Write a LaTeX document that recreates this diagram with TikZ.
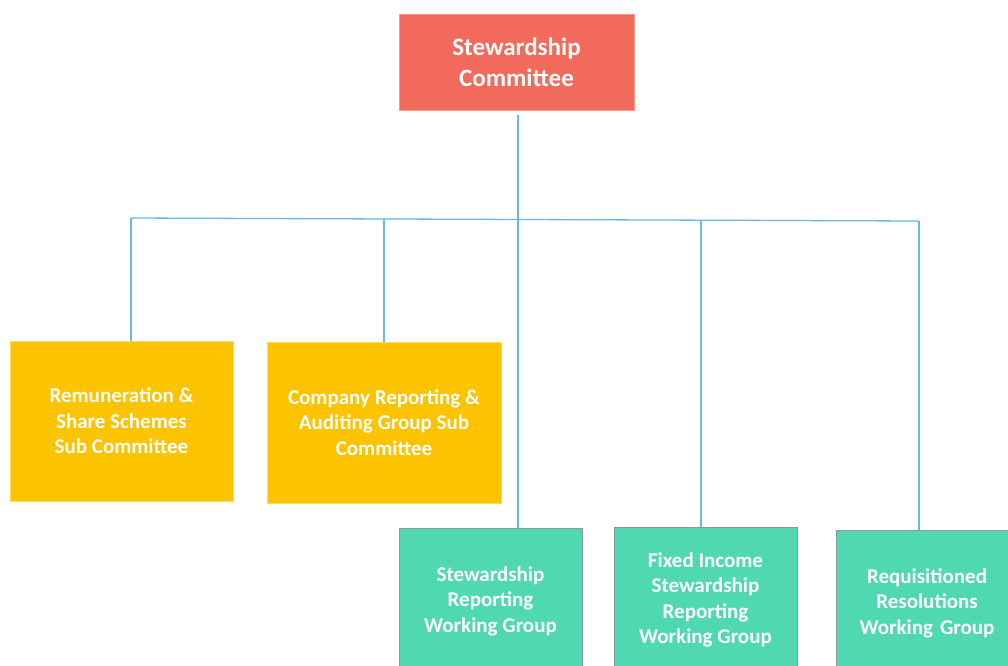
\documentclass[tikz,border=0pt]{standalone}
\usepackage{fontspec}
\setmainfont{Carlito}
\definecolor{redbox}{HTML}{F26A5B}
\definecolor{yelbox}{HTML}{FCC300}
\definecolor{grnbox}{HTML}{50D9B0}
\definecolor{grnedge}{HTML}{8A9A94}
\definecolor{linec}{HTML}{6DB6E6}
\begin{document}
\begin{tikzpicture}[x=1pt,y=-1pt,
  box/.style={inner sep=0pt, align=center, text=white, font=\bfseries},
  topbox/.style={box, fill=redbox, draw=redbox!70!white, line width=0.8pt, font=\fontsize{25}{31}\selectfont\bfseries},
  subbox/.style={box, fill=yelbox, draw=yelbox!60!white, line width=0.8pt, font=\fontsize{21}{25.5}\selectfont\bfseries},
  wgbox/.style={box, fill=grnbox, draw=grnedge, line width=1pt, font=\fontsize{21}{25.5}\selectfont\bfseries},
  conn/.style={draw=linec, line width=1.3pt}]
\useasboundingbox (0,0) rectangle (1008,665);
\clip (0,0) rectangle (1008,665);
\fill[white] (0,0) rectangle (1008,665);
\node[topbox, minimum width=235pt, minimum height=96pt] (top) at (516.5,62) {Stewardship\\Committee};
\node[subbox, minimum width=223pt, minimum height=160pt] (rem) at (121.5,421) {Remuneration \&\\Share Schemes\\Sub Committee};
\node[subbox, minimum width=234pt, minimum height=161pt] (crag) at (384,422.5) {Company Reporting \&\\Auditing Group Sub\\Committee};
\node[wgbox, minimum width=183pt, minimum height=146pt] (swg) at (490.5,601) {Stewardship\\Reporting\\Working Group};
\node[wgbox, minimum width=183pt, minimum height=146pt] (fis) at (705.5,600) {Fixed Income\\Stewardship\\Reporting\\Working Group};
\node[wgbox, minimum width=172pt, minimum height=146pt, text width=172pt, inner xsep=0pt] (rrwg) at (922,603) {\hspace*{10pt}Requisitioned\\\hspace*{10pt}Resolutions\\\hspace*{10pt}Working Group};
\coordinate (barL) at (131,218);
\coordinate (barR) at (919,221);
\coordinate (topx) at (518,115);
\coordinate (cragx) at (384,219);
\coordinate (fisx) at (701,220);
\draw[conn] (barL) -- (barR);
\draw[conn] (topx) -- (topx |- swg.north);
\draw[conn] (barL) -- (barL |- rem.north);
\draw[conn] (cragx) -- (cragx |- crag.north);
\draw[conn] (fisx) -- (fisx |- fis.north);
\draw[conn] (barR) -- (barR |- rrwg.north);
\end{tikzpicture}
\end{document}
